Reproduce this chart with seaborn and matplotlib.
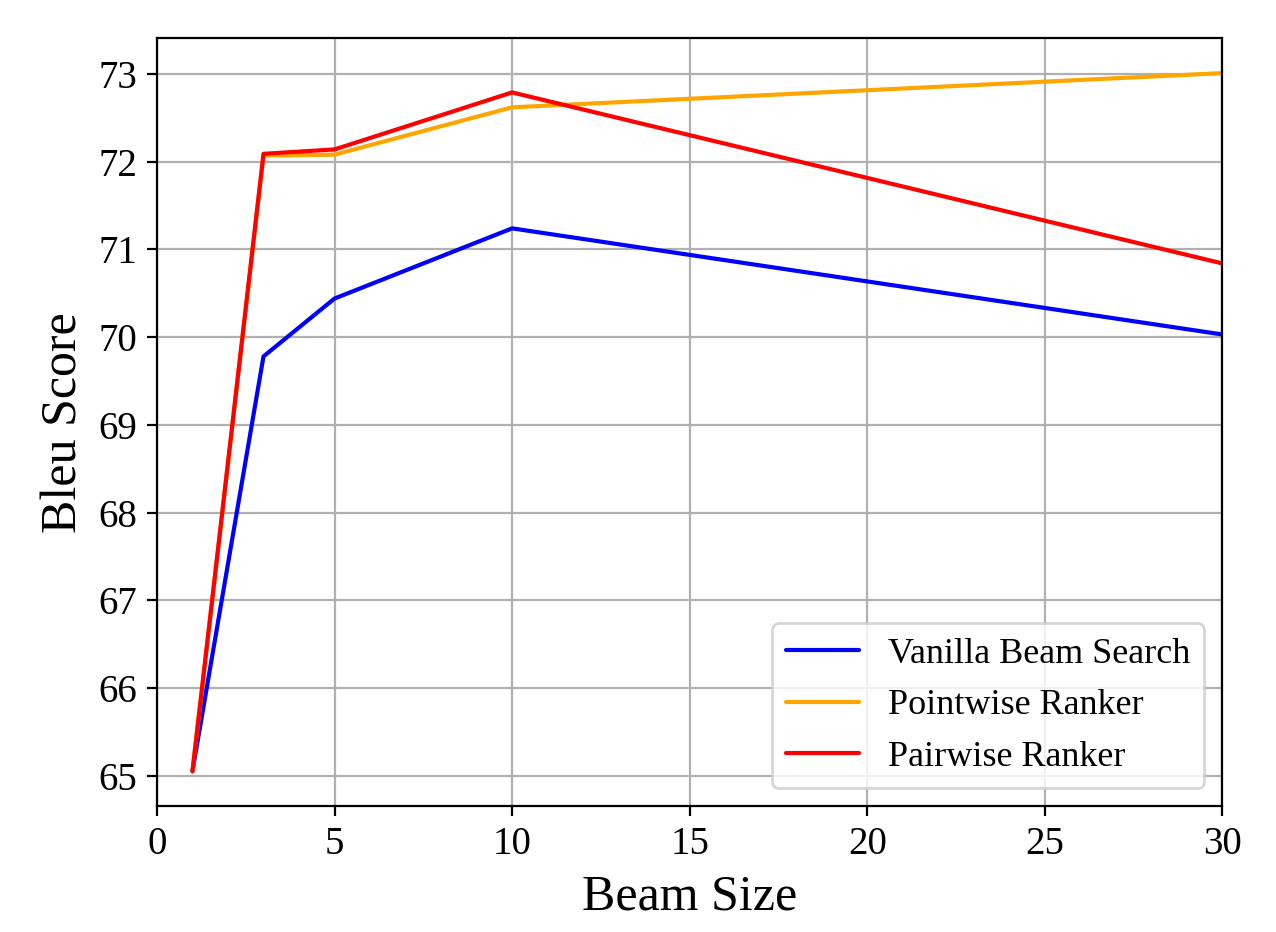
import matplotlib
matplotlib.use("Agg")
import matplotlib.pyplot as plt
import seaborn as sns
import pandas as pd

# beam sizes and bleu scores
beam = [1, 3, 5, 10, 30]
vanilla = [65.05, 69.78, 70.44, 71.24, 70.03]
pointwise = [65.05, 72.07, 72.08, 72.62, 73.01]
pairwise = [65.05, 72.09, 72.14, 72.79, 70.84]

names = ["Vanilla Beam Search", "Pointwise Ranker", "Pairwise Ranker"]
colors = ["blue", "orange", "red"]

df = pd.DataFrame({
    "Beam Size": beam * 3,
    "Bleu Score": vanilla + pointwise + pairwise,
    "Method": [names[0]] * 5 + [names[1]] * 5 + [names[2]] * 5,
})

sns.set_style("ticks")
plt.rcParams["font.family"] = ["Liberation Serif", "DejaVu Serif"]
plt.rcParams["text.color"] = "black"
plt.rcParams["axes.labelcolor"] = "black"
plt.rcParams["xtick.color"] = "black"
plt.rcParams["ytick.color"] = "black"

fig, ax = plt.subplots(figsize=(6.38, 4.66), dpi=200)
sns.lineplot(data=df, x="Beam Size", y="Bleu Score", hue="Method",
             palette=colors, linewidth=1.5, ax=ax)

ax.set_xlim(0, 30)
ax.grid(True, color="#b0b0b0", linewidth=0.8)
ax.tick_params(labelsize=14, direction="out", length=3.5, width=0.8)
for s in ax.spines.values():
    s.set_color("black")
    s.set_linewidth(0.8)
ax.set_xlabel("Beam Size", fontsize=18)
ax.set_ylabel("Bleu Score", fontsize=18)
ax.legend(loc="lower right", fontsize=13, title=None, framealpha=0.8)

fig.subplots_adjust(left=0.123, right=0.958, top=0.959, bottom=0.135)
plt.savefig("out.png", dpi=200)
